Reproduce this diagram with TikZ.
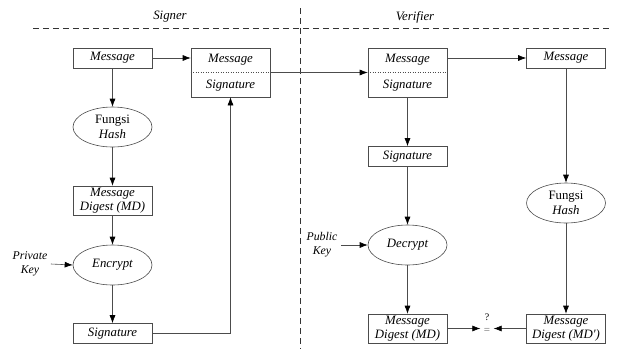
\documentclass[tikz,border=0pt]{standalone}
\usepackage{fontspec}
\setmainfont{Liberation Serif}
\usetikzlibrary{arrows.meta,shapes.geometric}
\begin{document}
\begin{tikzpicture}[x=1pt,y=-1pt,
  every node/.style={font=\fontsize{12.8}{14.5}\selectfont\itshape},
  ln/.style={draw=black!70, line width=0.6pt},
  arr/.style={ln,-{Latex[length=8pt,width=6pt,fill=black,color=black]}},
  box/.style={draw=black!70, line width=0.6pt, rectangle, minimum width=79pt, minimum height=20pt, inner sep=1pt, align=center},
  tall/.style={box, minimum height=29pt},
  ell/.style={draw=black!70, line width=0.6pt, ellipse, minimum width=79pt, minimum height=40pt, inner sep=0pt, align=center},
  dline/.style={draw=black!80, line width=0.6pt, dash pattern=on 6pt off 4pt},
  lbl/.style={align=center, font=\fontsize{11.8}{14}\selectfont\itshape}]
\useasboundingbox (0,0) rectangle (626,349);
% separators
\draw[dline] (33,28) -- (612,28);
\draw[dline] (300,8) -- (300,349);
\node (signer) at (170,17) {Signer};
\node (verifier) at (415,17) {Verifier};
% Signer
\node[box] (smsg) at (112.5,58) {Message};
\node[ell] (shash) at (112.5,127) {\upshape Fungsi\\Hash};
\node[tall] (smd) at (112.5,200.5) {Message\\Digest (MD)};
\node[ell] (senc) at (112.5,265) {Encrypt};
\node[box] (ssig) at (112.5,333.5) {Signature};
\node[lbl] (pk) at (30,264) {Private\\Key};
\node[box, minimum height=49pt] (scb) at (230.5,72.5) {};
\node (scbm) at (230.5,60) {Message};
\node (scbs) at (230.5,86) {Signature};
\draw[black!70, line width=0.5pt, dotted] (scb.west) -- (scb.east);
\draw[arr] (smsg) -- (shash);
\draw[arr] (shash) -- (smd);
\draw[arr] (smd) -- (senc);
\draw[arr] (senc) -- (ssig);
\draw[arr] (pk.east) -- (senc.west);
\draw[arr] (smsg.east) -- (smsg.east -| scb.west);
\draw[arr] (ssig.east) -| (scb.south);
% Verifier
\node[box, minimum height=49pt] (vcb) at (407.5,72.5) {};
\node (vcbm) at (407.5,60) {Message};
\node (vcbs) at (407.5,86) {Signature};
\draw[black!70, line width=0.5pt, dotted] (vcb.west) -- (vcb.east);
\node[box] (vmsg) at (566,58) {Message};
\node[box] (vsig) at (407.5,156.5) {Signature};
\node[ell] (vdec) at (407.5,245) {Decrypt};
\node[lbl] (pub) at (322,245) {Public\\Key};
\node[tall] (vmd) at (407.5,328.5) {Message\\Digest (MD)};
\node[ell] (vhash) at (566,203) {\upshape Fungsi\\Hash};
\node[tall] (vmd2) at (566,328.5) {Message\\Digest (MD\textquotesingle)};
\node[font=\fontsize{10}{10}\selectfont] (q) at (487,317) {?};
\node[font=\fontsize{11}{11}\selectfont\upshape, text=black!60] (eq) at (487,331) {=};
\draw[arr] (scb.east) -- (vcb.west);
\draw[arr] (vcb.east |- vmsg.west) -- (vmsg.west);
\draw[arr] (vcb) -- (vsig);
\draw[arr] (vsig) -- (vdec);
\draw[arr] (pub.east) -- (vdec.west);
\draw[arr] (vdec) -- (vmd);
\draw[arr] (vmsg) -- (vhash);
\draw[arr] (vhash) -- (vmd2);
\draw[arr] (vmd.east) -- (eq.west |- vmd.east);
\draw[arr] (vmd2.west) -- (eq.east |- vmd2.west);
\end{tikzpicture}
\end{document}
